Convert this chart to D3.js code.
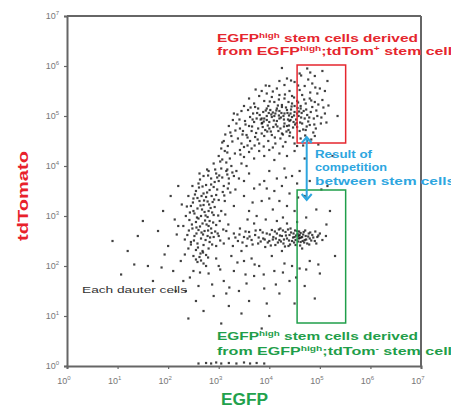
<!DOCTYPE html>
<html>
<head>
<meta charset="utf-8">
<script src="https://cdn.jsdelivr.net/npm/d3@7"></script>
<style>
  body { margin: 0; background: #fff; }
  svg { display: block; font-family: "Liberation Sans", Arial, sans-serif; }
</style>
</head>
<body>
<div id="chart"></div>
<script>
// log10 exponents for the axis ticks
const xTickExp = [0, 1, 2, 3, 4, 5, 6, 7];
const yTickExp = [0, 1, 2, 3, 4, 5, 6, 7];

// events as [log10 EGFP, log10 tdTomato]
const upperCluster = [
  [4.6,5.85],[4.9,5.8],[4.35,5.75],[5.05,5.9],[4.75,5.95],[4.2,5.7],[5.15,5.7],[4.25,5.96],
  [4.0,5.6],[4.3,5.62],[4.5,5.68],[4.7,5.6],[4.85,5.65],[5.0,5.55],[4.15,5.55],[4.6,5.52],[3.85,5.5],[4.95,5.45],[5.1,5.5],[4.4,5.5],
  [3.6,5.35],[3.8,5.4],[3.95,5.45],[4.05,5.38],[4.2,5.42],[4.3,5.35],[4.45,5.4],[4.55,5.3],[4.65,5.42],[4.8,5.35],[4.9,5.28],[5.05,5.32],
  [3.7,5.25],[3.9,5.3],[4.1,5.28],[4.25,5.22],[4.38,5.28],[4.5,5.2],[4.72,5.25],[4.85,5.18],[3.5,5.2],[4.62,5.15],[3.98,5.2],[4.15,5.15],
  [3.3,5.05],[3.45,5.1],[3.58,5.12],[3.68,5.05],[3.78,5.15],[3.88,5.08],[3.95,5.0],[4.02,5.12],[4.12,5.05],[4.2,5.1],[4.28,5.0],[4.35,5.12],
  [4.42,5.05],[4.5,5.08],[4.58,5.0],[4.68,5.1],[4.75,5.02],[4.82,5.08],[4.95,5.0],[5.1,5.05],[3.62,4.98],[3.72,5.18],[3.85,4.95],[4.05,4.98],
  [4.25,5.18],[4.45,4.98],[4.62,5.2],[4.88,4.95],
  [3.2,4.8],[3.35,4.85],[3.42,4.75],[3.52,4.9],[3.6,4.8],[3.7,4.88],[3.78,4.75],[3.85,4.85],[3.92,4.72],[4.0,4.88],[4.08,4.78],[4.15,4.9],
  [4.22,4.75],[4.3,4.85],[4.38,4.72],[4.48,4.88],[4.55,4.78],[4.65,4.85],[4.72,4.72],[4.8,4.82],[4.92,4.75],[5.02,4.85],[3.28,4.92],[3.48,4.7],
  [3.65,4.7],[3.95,4.92],[4.18,4.7],[4.42,4.92],[4.6,4.7],
  [3.1,4.5],[3.25,4.6],[3.38,4.55],[3.45,4.45],[3.55,4.62],[3.62,4.5],[3.72,4.58],[3.8,4.45],[3.9,4.6],[3.98,4.5],[4.05,4.62],[4.12,4.45],
  [4.22,4.55],[4.32,4.48],[4.4,4.6],[4.5,4.45],[4.62,4.55],[4.75,4.5],[4.9,4.6],[3.18,4.4],[3.5,4.38],[3.85,4.65],[4.25,4.65],[4.55,4.4],
  [3.0,4.2],[3.12,4.3],[3.22,4.15],[3.32,4.25],[3.42,4.32],[3.5,4.18],[3.6,4.28],[3.7,4.15],[3.8,4.3],[3.9,4.2],[4.0,4.32],[4.1,4.12],
  [4.2,4.25],[4.35,4.2],[4.5,4.3],[4.7,4.15],[3.05,4.35],[3.65,4.35],
  [4.1,5.0],[4.3,5.05],[4.4,4.9],[3.9,4.95],[4.2,4.95],[4.55,5.05],[4.0,4.75],[3.75,4.95],[4.35,4.8],[4.7,4.95],[3.95,5.15],[4.45,5.25],
  [3.53,4.83],[3.67,4.93],[3.74,4.66],[3.81,5.02],[3.87,4.78],[3.93,5.11],[4.03,4.69],[4.07,5.07],[4.13,4.83],[4.17,5.21],[4.23,4.97],[4.27,4.63],
  [4.33,5.17],[4.37,4.93],[4.43,5.13],[4.47,4.77],[4.53,4.93],[4.57,5.27],[4.63,4.97],[4.67,4.73],[4.73,5.13],[4.77,4.89],[4.83,5.31],[4.87,4.67],
  [4.93,5.11],[3.57,4.57],[3.63,5.17],[3.77,4.53],[3.83,4.93],[3.97,4.81],[4.01,5.29],[4.11,4.57],[4.19,5.33],[4.29,4.79],[4.31,5.43],[4.39,5.01],
  [4.41,4.67],[4.49,5.37],[4.51,4.83],[4.59,5.09],[4.61,4.87],[4.69,5.33],[4.71,4.61],[4.79,4.97],[4.81,5.47],[4.89,4.83],[4.97,5.23],[5.03,4.97],
  [5.07,5.17],[3.41,4.93],[3.47,4.63],[3.33,4.71],[3.37,5.03],[3.23,4.67],[3.27,4.49],[3.13,4.63],[3.17,4.27],[3.07,4.47],[3.03,4.09],[3.43,4.23],
  [3.57,4.41],[3.71,4.41],[3.89,4.39],[4.07,4.37],[4.27,4.39],[4.47,4.57],[4.67,4.41],[4.83,4.53],[4.97,4.43],[5.13,4.87],[5.17,5.21],[4.91,5.57],
  [4.77,5.73],[4.57,5.61],[4.43,5.71],[4.07,5.49],[3.93,5.61],[3.73,5.53],[4.63,5.81],[4.81,5.87],
  [3.86,4.86],[3.96,4.69],[4.04,5.03],[4.16,4.79],[4.24,5.06],[4.34,4.69],[4.44,5.19],[4.54,4.86],[4.64,5.06],[4.74,4.79],[3.76,5.06],[3.66,4.79],
  [4.09,4.91],[4.19,5.01],[4.29,4.93],[4.39,4.81],[4.49,5.01],[3.99,5.06],[3.89,4.89],[4.14,5.11],[4.36,5.06],[4.56,5.16]
];

const ridge = [
  [2.9,4.05],[3.05,3.95],[2.8,3.9],[2.95,3.85],[3.15,3.9],[2.7,3.8],[2.85,3.75],[3.0,3.7],[3.2,3.75],[2.6,3.65],[2.75,3.62],[2.9,3.58],
  [3.1,3.6],[2.55,3.5],[2.7,3.45],[2.82,3.52],[2.95,3.42],[3.08,3.48],[2.5,3.35],[2.62,3.3],[2.75,3.38],[2.88,3.28],[3.0,3.32],[2.45,3.2],
  [2.58,3.15],[2.7,3.22],[2.8,3.1],[2.92,3.18],[2.52,3.05],[2.65,3.0],[2.78,2.98],[2.9,3.02],[2.42,2.92],[2.55,2.88],[2.68,2.85],[2.82,2.9],
  [2.95,2.82],[2.48,2.75],[2.6,2.72],[2.72,2.7],[2.85,2.75],[2.38,2.62],[2.52,2.6],[2.65,2.55],[2.78,2.6],[2.9,2.58],[2.45,2.48],[2.58,2.45],
  [2.7,2.42],[2.82,2.48],[2.95,2.4],[2.4,2.35],[2.55,2.32],[2.68,2.3],[2.8,2.35],[2.5,2.2],[2.62,2.18],[2.75,2.22],[2.58,2.08],[2.7,2.05],
  [3.05,3.1],[3.12,3.3],[3.18,3.55],[2.35,3.0],[2.3,2.8],[2.4,3.4],[2.98,2.65],[3.02,2.9],[2.62,3.85],[2.48,3.6],
  [2.6,2.95],[2.72,3.08],[2.66,3.4],[2.56,2.65],[2.74,2.52],[2.86,3.4],[2.64,2.25],[2.8,2.8],[2.5,3.1],[2.92,3.68],
  [3.25,4.0],[3.35,3.9],[3.45,4.05],[3.3,3.8],[3.55,4.0],[3.4,3.75],[3.6,3.85],[3.2,3.65],[3.5,3.7],
  [3.5,3.4],[3.7,3.55],[3.85,3.3],[3.6,3.1],[3.9,3.7],[3.3,3.2],[3.75,3.0],
  [4.0,3.9],[4.15,3.75],[4.3,3.95],[4.45,3.8],[4.1,3.5],[4.25,3.6],[4.4,3.45],[4.55,3.65],[4.0,3.35],[4.6,3.9],[4.2,3.3],[3.95,3.55],
  [4.35,3.2],[4.7,3.4],[4.5,3.1],[4.8,3.7],
  [2.53,3.43],[2.57,2.97],[2.61,3.57],[2.63,2.79],[2.67,3.13],[2.69,2.63],[2.71,3.31],[2.73,2.91],[2.77,3.47],[2.79,2.71],[2.81,3.23],[2.83,2.57],
  [2.87,3.07],[2.89,2.87],[2.91,3.33],[2.93,2.69],[2.97,3.53],[2.99,3.01],[3.01,3.81],[3.03,2.51],[2.47,2.83],[2.49,3.27],[2.51,2.51],[2.43,3.07],
  [2.41,2.71],[2.37,3.19],[2.59,2.37],[2.63,3.73],[2.69,2.27],[2.77,3.93],[2.87,2.43],[2.93,3.93],[3.07,3.77],[3.11,3.41],[3.13,3.03],[3.17,3.83],
  [3.23,3.47],[3.27,3.87],[3.09,2.73],[3.19,2.83],[2.55,2.13],[2.65,2.11],[2.79,2.17],[2.45,2.43],[2.33,2.53],[2.85,3.63],[2.97,3.77],[2.79,3.81],
  [3.07,4.13],[3.15,4.07],
  [2.64,3.21],[2.74,3.01],[2.84,3.16],[2.66,2.67],[2.76,2.83],[2.56,2.77],[2.68,3.59],[2.86,2.66],[2.58,3.36],[2.78,3.29]
];

const lowBand = [
  [3.0,2.6],[3.1,2.45],[3.15,2.7],[3.2,2.55],[3.28,2.4],[3.3,2.65],[3.38,2.5],[3.42,2.75],[3.5,2.58],[3.55,2.4],[3.6,2.68],[3.65,2.52],
  [3.72,2.62],[3.78,2.45],[3.82,2.72],[3.88,2.55],[3.92,2.38],[3.95,2.65],[4.0,2.5],[4.05,2.72],[4.08,2.58],[4.12,2.42],[4.15,2.65],[4.2,2.52],
  [4.22,2.75],[4.25,2.6],[4.28,2.45],[4.32,2.68],[4.35,2.55],[4.38,2.4],[4.4,2.62],[4.42,2.75],[4.45,2.5],[4.48,2.65],[4.5,2.58],[4.52,2.42],
  [4.55,2.7],[4.58,2.55],[4.6,2.62],[4.62,2.48],[4.65,2.58],[4.68,2.68],[4.7,2.52],[4.72,2.6],[4.75,2.45],[4.78,2.65],[4.8,2.55],[4.85,2.62],
  [4.9,2.5],[4.95,2.58],[5.0,2.65],[5.05,2.52],[5.12,2.6],[4.35,2.85],[4.55,2.88],[4.15,2.9],[3.7,2.85],[4.65,2.35],[4.25,2.3],[3.45,2.3],
  [4.58,2.6],[4.62,2.66],[4.52,2.52],[4.6,2.56],[4.66,2.5],[4.56,2.64],
  [4.21,2.61],[4.23,2.49],[4.27,2.71],[4.29,2.53],[4.31,2.39],[4.33,2.61],[4.37,2.73],[4.39,2.51],[4.41,2.43],[4.43,2.67],[4.47,2.57],[4.49,2.47],
  [4.51,2.71],[4.53,2.61],[4.57,2.49],[4.59,2.69],[4.61,2.41],[4.63,2.57],[4.67,2.63],[4.69,2.47],[4.71,2.71],[4.73,2.53],[4.77,2.59],[4.79,2.43],
  [4.81,2.67],[4.83,2.51],[4.87,2.57],[4.91,2.69],[4.93,2.45],[4.97,2.61],[3.61,2.59],[3.67,2.43],[3.73,2.71],[3.79,2.57],[3.83,2.49],[3.87,2.67],
  [3.91,2.53],[3.97,2.47],[4.01,2.63],[4.03,2.41],[4.07,2.53],[4.11,2.69],[4.13,2.55],[4.17,2.47],[4.19,2.73],[3.33,2.57],[3.41,2.63],[3.47,2.47],
  [3.53,2.69],[3.57,2.55]
];

const sparse = [
  [1.2,2.3],[1.6,2.0],[1.8,2.7],[2.0,2.4],[2.1,1.9],[1.9,3.1],[2.2,2.8],[2.25,2.1],[1.5,2.9],[2.05,3.4],[1.7,1.7],[2.15,1.5],
  [2.3,1.7],[1.4,2.6],[2.2,3.6],[0.9,2.5],
  [2.5,1.9],[2.6,1.6],[2.8,1.85],[2.9,1.4],[3.0,2.0],[3.1,1.7],[3.2,1.2],[3.3,1.9],[3.4,1.5],[3.5,2.1],[3.6,1.3],[3.7,1.8],
  [3.8,2.0],[3.9,1.55],[4.0,1.0],[4.1,1.9],[4.2,1.45],[4.3,2.05],[4.4,1.7],[4.5,1.25],[4.6,1.95],[4.7,1.6],[4.8,2.1],[4.9,1.35],
  [5.0,1.85],[2.7,1.1],[3.05,0.85],[2.4,0.95],[3.45,1.05],[2.95,2.15],[3.25,2.2],[3.65,2.15],[4.05,2.2],[2.75,2.0],[2.35,1.5],[2.55,1.3],
  [3.15,1.45],[3.55,1.65],[3.95,1.25],[4.45,2.0],[3.85,0.75],
  [5.2,3.1],[5.3,2.2],[5.25,4.2],[5.35,5.0],[5.15,3.6],
  [1.93,2.23],[2.17,2.63],[2.27,3.23],[2.13,2.93],[1.87,1.97],[2.33,2.23],[2.43,1.77],[2.63,1.87],[2.87,1.63],[3.03,1.93],[3.21,1.57],[3.37,2.07],
  [3.53,1.83],[3.71,2.03],[3.89,1.83],[4.13,1.63],[4.27,1.87],[4.53,1.77],[4.73,1.93],[4.97,2.03],[3.17,3.93],[3.33,3.53],[3.67,3.27],[3.81,3.63],
  [4.07,3.13],[4.33,3.77],[4.57,3.37],[4.93,3.13],[5.03,3.53],[3.57,2.93],[3.93,2.93],[4.27,2.97],[4.73,2.97],[5.13,2.83],[1.33,2.03],[1.07,1.83]
];

// events piled on the bottom edge
const axisRow = [
  [2.6,0.05],[2.75,0.06],[2.85,0.05],[2.95,0.07],[3.05,0.05],[3.2,0.06],[3.35,0.05],[3.5,0.07],[3.62,0.05],[3.75,0.06],[3.9,0.05]
];

// gates as [EGFP low, EGFP high, tdTom low, tdTom high] (log10)
const redGate = [4.55, 5.51, 4.46, 6.02];
const greenGate = [4.55, 5.51, 0.86, 3.52];
// competition arrow: EGFP position, tdTom top, tdTom bottom (log10)
const arrowSpan = [4.74, 4.58, 3.32];

const W = 451, H = 408;
const svg = d3.select("#chart").append("svg")
    .attr("width", W)
    .attr("height", H);

const x = d3.scaleLog().domain([1, 1e7]).range([67, 421]);
const y = d3.scaleLog().domain([1, 1e7]).range([366, 16]);
const px = e => x(Math.pow(10, e));
const py = e => y(Math.pow(10, e));

// dots
const allEvents = upperCluster.concat(ridge, lowBand, sparse, axisRow);
svg.append("g")
  .selectAll("rect")
  .data(allEvents)
  .enter().append("rect")
    .attr("x", d => px(d[0]) - 1.1)
    .attr("y", d => py(d[1]) - 1.1)
    .attr("width", 2.2)
    .attr("height", 2.2)
    .attr("fill", "#111")
    .attr("opacity", 0.8);

// frame
const axisColor = "#666";
svg.append("line").attr("x1", 67).attr("x2", 421).attr("y1", 16).attr("y2", 16)
    .attr("stroke", axisColor).attr("stroke-width", 2);
svg.append("line").attr("x1", 421).attr("x2", 421).attr("y1", 16).attr("y2", 366)
    .attr("stroke", axisColor).attr("stroke-width", 2);

const xAxis = svg.append("g")
    .attr("transform", "translate(0,366)")
    .call(d3.axisBottom(x).tickValues(xTickExp.map(e => Math.pow(10, e))).tickFormat(() => "").tickSize(3));
const yAxis = svg.append("g")
    .attr("transform", "translate(67,0)")
    .call(d3.axisLeft(y).tickValues(yTickExp.map(e => Math.pow(10, e))).tickFormat(() => "").tickSize(3));
[xAxis, yAxis].forEach(a => {
  a.select(".domain").attr("stroke", axisColor).attr("stroke-width", 2);
  a.selectAll(".tick line").attr("stroke", axisColor).attr("stroke-width", 1.2);
});

// tick labels 10^n
const tickColor = "#777";
xTickExp.forEach(e => {
  const t = svg.append("text")
      .attr("x", px(e) - 3)
      .attr("y", 384)
      .attr("text-anchor", "middle")
      .attr("font-size", 9)
      .attr("fill", tickColor);
  t.append("tspan").text("10");
  t.append("tspan").attr("dy", -4).attr("font-size", 6).text(e);
});
yTickExp.forEach(e => {
  const t = svg.append("text")
      .attr("x", 59)
      .attr("y", py(e) + 3)
      .attr("text-anchor", "end")
      .attr("font-size", 9)
      .attr("fill", tickColor);
  t.append("tspan").text("10");
  t.append("tspan").attr("dy", -4).attr("font-size", 6).text(e);
});

// axis titles
svg.append("text")
    .attr("x", 221).attr("y", 405)
    .attr("font-size", 16).attr("font-weight", "bold")
    .attr("fill", "#22a14c")
    .attr("textLength", 47).attr("lengthAdjust", "spacingAndGlyphs")
    .text("EGFP");
svg.append("text")
    .attr("transform", "translate(28,196) rotate(-90)")
    .attr("text-anchor", "middle")
    .attr("font-size", 14).attr("font-weight", "bold")
    .attr("fill", "#e8212b")
    .attr("textLength", 90).attr("lengthAdjust", "spacingAndGlyphs")
    .text("tdTomato");

// gates
const red = "#e5262e", green = "#1f9e4a", blue = "#2ea6df";
[[redGate, red], [greenGate, green]].forEach(([g, c]) => {
  svg.append("rect")
      .attr("x", px(g[0]))
      .attr("y", py(g[3]))
      .attr("width", px(g[1]) - px(g[0]))
      .attr("height", py(g[2]) - py(g[3]))
      .attr("fill", "none")
      .attr("stroke", c)
      .attr("stroke-width", 1.5);
});

// double arrow
const ax = px(arrowSpan[0]), ay0 = py(arrowSpan[1]), ay1 = py(arrowSpan[2]);
svg.append("line").attr("x1", ax).attr("x2", ax).attr("y1", ay0).attr("y2", ay1)
    .attr("stroke", blue).attr("stroke-width", 2);
svg.append("path")
    .attr("d", `M${ax - 5},${ay0 + 6}L${ax},${ay0}L${ax + 5},${ay0 + 6}M${ax - 5},${ay1 - 6}L${ax},${ay1}L${ax + 5},${ay1 - 6}`)
    .attr("fill", "none").attr("stroke", blue).attr("stroke-width", 2);

// annotation text; superscript parts are {s, dy}
function label(xp, yp, parts, color, len) {
  const t = svg.append("text")
      .attr("x", xp).attr("y", yp)
      .attr("font-size", 11).attr("font-weight", "bold")
      .attr("fill", color);
  if (len) t.attr("textLength", len).attr("lengthAdjust", "spacingAndGlyphs");
  parts.forEach(p => {
    if (typeof p === "string") t.append("tspan").text(p);
    else t.append("tspan").attr("font-size", p.size).attr("dy", p.dy).text(p.s);
  });
}
const sup = s => ({ s: s, dy: -4, size: 7 });
const down = s => ({ s: s, dy: 4, size: 11 });

label(217, 42, ["EGFP", sup("high"), down(" stem cells derived")], red, 201);
label(217, 55, ["from EGFP", sup("high"), down(";tdTom"), sup("+"), down(" stem cells")], red, 244);
label(217, 340, ["EGFP", sup("high"), down(" stem cells derived")], green, 201);
label(217, 355, ["from EGFP", sup("high"), down(";tdTom"), sup("-"), down(" stem cells")], green, 244);

label(315, 158, ["Result of"], blue, 57);
label(315, 171, ["competition"], blue, 72);
label(315, 185, ["between stem cells"], blue, 140);

svg.append("text")
    .attr("x", 82).attr("y", 293)
    .attr("font-size", 9)
    .attr("fill", "#333")
    .attr("textLength", 105).attr("lengthAdjust", "spacingAndGlyphs")
    .text("Each dauter cells");
</script>
</body>
</html>
